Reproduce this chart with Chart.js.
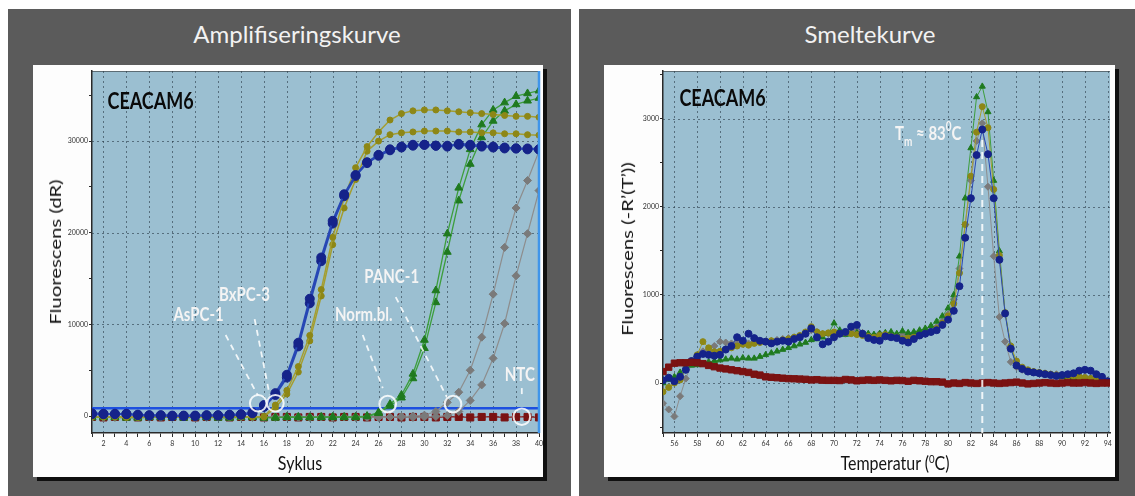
<!DOCTYPE html>
<html lang="no">
<head>
<meta charset="utf-8">
<title>CEACAM6 – amplifisering og smeltekurve</title>
<script src="https://cdn.jsdelivr.net/npm/chart.js@4.4.1/dist/chart.umd.min.js"></script>
<style>
  html, body { margin:0; padding:0; background:#ffffff; }
  body { position:relative; width:1135px; height:496px; overflow:hidden; font-family: Lato, "Open Sans", sans-serif; }
  .panel { position:absolute; top:9px; height:487px; background:#5b5b5b; }
  .ptitle { position:absolute; top:22px; font-size:24px; line-height:24px; color:#f2f2f2; white-space:nowrap; transform:translateX(-50%); }
  .card { position:absolute; top:65px; height:412px; background:#fdfdfd; box-shadow:4px 4px 0 #101010; }
  canvas { position:absolute; top:65px; }
  .axt { position:absolute; white-space:nowrap; color:#141414; font-size:16px; line-height:16px; }
  .axt.x { transform: translate(-50%,-50%) scale(1,1.22); }
  .axt.y { transform: translate(-50%,-50%) rotate(-90deg) scale(1.27,1); }
  sup { font-size:0.6em; vertical-align:0.6em; line-height:0; }
</style>
</head>
<body>
<div class="panel" style="left:8px;width:563px"></div>
<div class="panel" style="left:579px;width:556px"></div>
<div class="ptitle" style="left:297px">Amplifiseringskurve</div>
<div class="ptitle" style="left:870px">Smeltekurve</div>
<div class="card" style="left:33px;width:510px"></div>
<div class="card" style="left:604px;width:511px"></div>
<canvas id="amp" width="520" height="412" style="left:33px"></canvas>
<canvas id="melt" width="520" height="412" style="left:604px"></canvas>
<div class="axt y" style="left:55px;top:252px">Fluorescens (dR)</div>
<div class="axt x" style="left:300px;top:463px">Syklus</div>
<div class="axt y" style="left:627px;top:249px">Fluorescens (-R’(T’))</div>
<div class="axt x" style="left:895px;top:463px">Temperatur (<sup>0</sup>C)</div>

<script>
// ---------- Amplification (dR per cycle, duplicate wells) ----------
const cycles = [1,2,3,4,5,6,7,8,9,10,11,12,13,14,15,16,17,18,19,20,
                21,22,23,24,25,26,27,28,29,30,31,32,33,34,35,36,37,38,39,40];

const aspc1A = [300,250,200,250,100,50,100,50,0,50,50,100,100,150,300,1200,2500,4500,8000,12800,
                17300,21300,24200,26300,27700,28500,29100,29400,29600,29600,29500,29500,29600,29500,29400,29400,29300,29200,29200,29100];
const aspc1B = [200,200,250,200,150,100,50,0,50,0,100,50,150,200,400,1000,2300,4200,7600,12300,
                16900,21000,24000,26200,27600,28400,29000,29300,29500,29600,29500,29400,29700,29600,29500,29300,29200,29200,29100,29100];
const bxpc3A = [-100,-50,-100,-150,-100,-50,-100,-100,-150,-100,-50,-100,-100,-50,-100,-50,1200,2800,5400,8800,
                13800,19500,23800,27100,29400,31000,32300,33000,33300,33400,33400,33300,33200,33100,33000,32900,32800,32700,32700,32600];
const bxpc3B = [-50,-100,-50,-100,-150,-100,-50,-100,-100,-150,-100,-100,-50,-100,-50,-100,900,2400,4800,8200,
                13100,18700,22700,25800,28900,30000,30700,30900,31000,31100,31100,31100,31000,31000,30900,30900,30800,30800,30700,30650];
const greenA = [-100,-150,-100,-150,-200,-150,-100,-150,-150,-100,-150,-200,-150,-100,-150,-200,-150,-150,-100,-150,
                -150,-100,-150,-100,0,400,1300,2300,4600,8300,13700,19900,24900,29100,31800,33400,34200,34900,35200,35500];
const greenB = [-150,-100,-150,-200,-150,-100,-150,-100,-200,-150,-100,-150,-200,-150,-100,-150,-200,-100,-150,-150,
                -100,-150,-100,-150,-50,300,1100,2000,4100,7400,12400,17900,23500,27500,30400,32200,33300,34000,34400,34700];
const greyA  = [-100,-150,-100,-100,-150,-100,-150,-100,-100,-150,-100,-100,-150,-100,-100,-150,-100,-100,-150,-100,
                -100,-150,-100,-100,-150,-100,-100,-50,0,100,500,1500,2600,5000,8600,13300,18400,22700,25700,28900];
const greyB  = [-150,-100,-150,-100,-100,-150,-100,-150,-100,-100,-150,-100,-150,-100,-150,-100,-150,-100,-100,-150,
                -100,-150,-100,-150,-100,-150,-100,-100,-150,-100,-50,50,500,1700,3400,6300,10100,15300,19900,24600];
const ntcAmp = [-100,-150,-100,-100,-150,-100,-150,-100,-100,-150,-100,-100,-150,-100,-100,-150,-100,-100,-150,-100,
                -100,-150,-100,-100,-150,-100,-100,-150,-100,-100,-150,-100,-100,-150,-100,-100,-150,-100,-100,-150];
const thresholdCycles = [1, 40];
const thresholdValues = [850, 850];

// axis ticks (every tick gets a mark; labelled ones also get a grid line)
const ampXTicks = cycles;
const ampYTicks = [0,5000,10000,15000,20000,25000,30000,35000];

// ---------- Melt curve (-R'(T) per temperature) ----------
const temps = [55,55.5,56,56.5,57,57.5,58,58.5,59,59.5,60,60.5,61,61.5,62,62.5,63,63.5,64,64.5,
               65,65.5,66,66.5,67,67.5,68,68.5,69,69.5,70,70.5,71,71.5,72,72.5,73,73.5,74,74.5,
               75,75.5,76,76.5,77,77.5,78,78.5,79,79.5,80,80.5,81,81.5,82,82.5,83,83.5,84,84.5,
               85,85.5,86,86.5,87,87.5,88,88.5,89,89.5,90,90.5,91,91.5,92,92.5,93,93.5,94];
const meltBlue  = [30,60,20,70,150,250,300,330,320,310, 320,380,420,520,480,560,510,480,470,450,
                   470,480,470,500,520,560,620,520,440,470, 520,560,580,640,660,560,510,490,480,530,
                   520,510,480,460,500,540,560,580,600,660, 720,820,1100,1650,2100,2590,2880,2600,2100,1400,
                   790,390,200,160,130,120,110,100,90,80, 90,100,110,140,150,140,100,70,20];
const meltGreen = [0,40,70,120,185,200,205,215,240,250, 260,270,280,270,285,280,280,300,320,340,
                   360,380,400,420,440,460,490,500,520,560, 680,600,550,560,570,560,560,550,560,570,
                   580,560,590,570,580,600,620,650,700,760, 850,1000,1440,2100,2670,3250,3370,3080,2300,1500,
                   800,420,200,150,130,120,110,100,90,80, 70,70,60,60,50,50,40,30,20];
const meltGrey  = [-230,-300,-380,-150,50,220,300,360,380,420, 470,460,450,470,460,450,470,460,470,480,
                   490,500,510,520,540,560,600,580,560,560, 570,580,560,580,600,570,550,540,560,550,
                   530,540,550,540,560,580,590,600,640,700, 780,950,1300,1800,2300,2750,2950,2230,1440,750,
                   470,240,180,150,140,130,120,110,100,100, 90,90,80,80,70,60,50,40,30];
const meltOlive = [-100,-50,0,35,150,250,320,470,400,355, 360,380,400,420,440,430,450,460,470,480,
                   470,490,500,520,540,580,640,580,560,570, 580,560,570,560,550,540,530,520,540,550,
                   530,520,500,510,520,540,560,580,620,680, 760,900,1250,1800,2350,2850,3140,2900,2200,1450,
                   800,420,250,180,150,130,120,110,100,90, 90,80,80,70,60,50,40,30,10];
const meltNtc   = [130,180,225,230,230,235,230,220,200,185, 170,160,150,140,130,120,100,90,70,65,
                   60,55,50,48,45,42,35,38,32,30, 30,28,40,35,25,30,35,30,35,30,
                   25,30,28,20,30,25,20,15,15,10, -10,0,-5,5,0,-5,0,5,0,-5,
                   0,5,10,0,-10,-5,0,5,0,-5, 0,5,0,0,5,0,-5,0,0];
const meltPeakT = 83;

const meltXTicks = [55,56,57,58,59,60,61,62,63,64,65,66,67,68,69,70,71,72,73,74,
                    75,76,77,78,79,80,81,82,83,84,85,86,87,88,89,90,91,92,93,94];
const meltYTicks = [-500,0,500,1000,1500,2000,2500,3000,3500];

// ---------- annotation anchors (data units) ----------
const ampRings   = [[15.5,1400],[17.0,1400],[26.8,1300],[32.5,1300],[38.5,-70]];
const ampLeaders = [[12.66,8840,15.45,2290],[15.19,10580,16.5,2290],[24.62,8840,26.37,3050],
                    [27.5,12980,31.96,2070],[38.5,3050,38.5,1960]];
const ampLabels  = [['AsPC-1',10.3,11020],['BxPC-3',14.31,13200],['Norm.bl.',24.71,11020],
                    ['PANC-1',27.15,15160],['NTC',38.33,4470]];
const geneName = 'CEACAM6';

// ---------- styling ----------
Chart.defaults.font.family = 'Lato, "Open Sans", sans-serif';
Chart.defaults.color = '#333';
const PLOT_BG = '#9bbfd1';
const GRID = 'rgba(40,58,70,0.6)';
const AXIS = '#2a2a2a';
const TEXT_STRETCH = 1.3;

function points(xs, ys) { return xs.map((x, i) => ({ x, y: ys[i] })); }

function series(label, xs, ys, line, dot, style, radius, width) {
  return {
    label, data: points(xs, ys),
    borderColor: line, backgroundColor: dot,
    pointBackgroundColor: dot, pointBorderColor: dot,
    pointStyle: style, pointRadius: radius, pointBorderWidth: 1,
    borderWidth: width, tension: 0, fill: false
  };
}

const isMultiple = (v, step) => Math.abs(v / step - Math.round(v / step)) < 1e-6;

function axis(min, max, tickValues, labelStep, horizontal) {
  return {
    type: 'linear', min, max,
    labelStep,
    afterFit: s => { if (horizontal) s.height = 44; else s.width = 59; },
    afterBuildTicks: s => { s.ticks = tickValues.map(v => ({ value: v })); },
    ticks: { autoSkip: false, maxRotation: 0, minRotation: 0,
             padding: horizontal ? 3 : 1, font: { size: 7 }, color: '#333',
             callback: v => (isMultiple(v, labelStep) ? String(v) : '') },
    grid: { drawOnChartArea: false, drawTicks: true,
            tickLength: horizontal ? 4 : 3, tickColor: AXIS, tickWidth: 1 },
    border: { display: true, color: AXIS, width: 1.5 }
  };
}

// plot background plus dotted grid at the labelled ticks
const plotBackground = {
  id: 'plotBackground',
  beforeDraw(chart) {
    const { ctx, chartArea: a } = chart;
    ctx.save();
    ctx.fillStyle = PLOT_BG;
    ctx.fillRect(a.left, a.top, a.right - a.left, a.bottom - a.top);
    ctx.strokeStyle = 'rgba(40,40,40,0.55)';
    ctx.lineWidth = 1;
    ctx.beginPath(); ctx.moveTo(a.left, a.top + 0.5); ctx.lineTo(a.right, a.top + 0.5); ctx.stroke();
    ctx.restore();
  },
  beforeDatasetsDraw(chart) {
    const { ctx, chartArea: a, scales: { x, y } } = chart;
    ctx.save();
    ctx.strokeStyle = GRID; ctx.lineWidth = 1; ctx.setLineDash([2, 3]);
    x.ticks.forEach(t => {
      if (!isMultiple(t.value, x.options.labelStep)) return;
      const px = Math.round(x.getPixelForValue(t.value)) + 0.5;
      if (px <= a.left + 1 || px >= a.right - 1) return;
      ctx.beginPath(); ctx.moveTo(px, a.top); ctx.lineTo(px, a.bottom); ctx.stroke();
    });
    y.ticks.forEach(t => {
      if (!isMultiple(t.value, y.options.labelStep)) return;
      const py = Math.round(y.getPixelForValue(t.value)) + 0.5;
      ctx.beginPath(); ctx.moveTo(a.left, py); ctx.lineTo(a.right, py); ctx.stroke();
    });
    ctx.restore();
  }
};

function stretchedText(ctx, text, x, y) {
  ctx.save();
  ctx.translate(x, y);
  ctx.scale(1, TEXT_STRETCH);
  ctx.fillText(text, 0, 0);
  ctx.restore();
}

const ampNotes = {
  id: 'ampNotes',
  afterDatasetsDraw(chart) {
    const { ctx, chartArea: a, scales: { x, y } } = chart;
    ctx.save();
    // run cursor at the last cycle
    ctx.strokeStyle = '#3f95ea'; ctx.lineWidth = 2.5;
    ctx.beginPath(); ctx.moveTo(a.right, a.top); ctx.lineTo(a.right, a.bottom); ctx.stroke();
    // leader lines
    ctx.strokeStyle = 'rgba(255,255,255,0.85)'; ctx.lineWidth = 1.8; ctx.setLineDash([6, 5]);
    ampLeaders.forEach(([x1, y1, x2, y2]) => {
      ctx.beginPath();
      ctx.moveTo(x.getPixelForValue(x1), y.getPixelForValue(y1));
      ctx.lineTo(x.getPixelForValue(x2), y.getPixelForValue(y2));
      ctx.stroke();
    });
    ctx.setLineDash([]);
    // Ct rings
    ctx.lineWidth = 2; ctx.strokeStyle = 'rgba(255,255,255,0.85)';
    ampRings.forEach(([cx, cy]) => {
      ctx.beginPath();
      ctx.arc(x.getPixelForValue(cx), y.getPixelForValue(cy), 8.3, 0, Math.PI * 2);
      ctx.stroke();
    });
    // sample labels
    ctx.fillStyle = '#f4f4f4'; ctx.font = 'bold 15px Lato, sans-serif';
    ctx.textAlign = 'center'; ctx.textBaseline = 'middle';
    ampLabels.forEach(([t, lx, ly]) => stretchedText(ctx, t, x.getPixelForValue(lx), y.getPixelForValue(ly)));
    // gene name
    ctx.fillStyle = '#0a0a0a'; ctx.font = 'bold 18px Lato, sans-serif'; ctx.textAlign = 'left';
    stretchedText(ctx, geneName, x.getPixelForValue(2.35), y.getPixelForValue(34360));
    ctx.restore();
  }
};

const meltNotes = {
  id: 'meltNotes',
  afterDatasetsDraw(chart) {
    const { ctx, chartArea: a, scales: { x, y } } = chart;
    ctx.save();
    // Tm marker
    const px = x.getPixelForValue(meltPeakT);
    ctx.strokeStyle = 'rgba(255,255,255,0.85)'; ctx.lineWidth = 2; ctx.setLineDash([7, 5]);
    ctx.beginPath(); ctx.moveTo(px, y.getPixelForValue(2760)); ctx.lineTo(px, a.bottom); ctx.stroke();
    ctx.setLineDash([]);
    // Tm label
    ctx.fillStyle = '#f4f4f4'; ctx.textAlign = 'left'; ctx.textBaseline = 'alphabetic';
    let tx = x.getPixelForValue(75.35);
    const ty = y.getPixelForValue(2760);
    const part = (txt, size, dy) => {
      ctx.font = 'bold ' + size + 'px Lato, sans-serif';
      stretchedText(ctx, txt, tx, ty + dy);
      tx += ctx.measureText(txt).width;
    };
    part('T', 15, 0); part('m', 10, 6); part(' ≈ 83', 15, 0); part('0', 10, -9); part('C', 15, 0);
    // gene name
    ctx.fillStyle = '#0a0a0a'; ctx.font = 'bold 18px Lato, sans-serif';
    ctx.textAlign = 'left'; ctx.textBaseline = 'middle';
    stretchedText(ctx, geneName, x.getPixelForValue(56.44), y.getPixelForValue(3233));
    ctx.restore();
  }
};

const commonOptions = {
  responsive: false, animation: false, devicePixelRatio: 1,
  layout: { padding: { top: 6, right: 14, left: 0, bottom: 0 } },
  plugins: { legend: { display: false }, tooltip: { enabled: false } },
  events: []
};

// earlier datasets are painted on top; the NTC well sits under the sample wells here
new Chart(document.getElementById('amp'), {
  type: 'line',
  data: {
    datasets: [
      series('AsPC-1', cycles, aspc1A, '#2747b5', '#15238a', 'circle', 4.5, 2),
      series('AsPC-1', cycles, aspc1B, '#2747b5', '#15238a', 'circle', 4.5, 2),
      series('BxPC-3', cycles, bxpc3A, '#a49e30', '#8d8716', 'circle', 3, 1.5),
      series('BxPC-3', cycles, bxpc3B, '#a49e30', '#8d8716', 'circle', 3, 1.5),
      series('grønn', cycles, greenA, '#3d9e3d', '#1f7a1f', 'triangle', 4.5, 1.3),
      series('grønn', cycles, greenB, '#3d9e3d', '#1f7a1f', 'triangle', 4.5, 1.3),
      series('grå', cycles, greyA, '#8d8d8d', '#7a7a7a', 'rectRot', 4, 1.2),
      series('grå', cycles, greyB, '#8d8d8d', '#7a7a7a', 'rectRot', 4, 1.2),
      series('NTC', cycles, ntcAmp, '#8a1c1c', '#7a1212', 'rect', 5, 1.2),
      { label: 'Terskel', data: points(thresholdCycles, thresholdValues), borderColor: '#1d4fe0',
        borderWidth: 2.5, pointRadius: 0, fill: false }
    ]
  },
  options: Object.assign({}, commonOptions, {
    scales: { x: axis(1, 40, ampXTicks, 2, true), y: axis(-1850, 37650, ampYTicks, 10000, false) }
  }),
  plugins: [plotBackground, ampNotes]
});

new Chart(document.getElementById('melt'), {
  type: 'line',
  data: {
    datasets: [
      series('NTC', temps, meltNtc, '#8a1c1c', '#7a1212', 'rect', 4.5, 1),
      series('AsPC-1', temps, meltBlue, '#2747b5', '#15238a', 'circle', 3.5, 1),
      series('BxPC-3', temps, meltOlive, '#a49e30', '#8d8716', 'circle', 3, 1),
      series('grønn', temps, meltGreen, '#3d9e3d', '#1f7a1f', 'triangle', 3.5, 1),
      series('grå', temps, meltGrey, '#8d8d8d', '#7a7a7a', 'rectRot', 3.5, 1)
    ]
  },
  options: Object.assign({}, commonOptions, {
    scales: { x: axis(55, 94.2, meltXTicks, 2, true), y: axis(-568, 3545, meltYTicks, 1000, false) }
  }),
  plugins: [plotBackground, meltNotes]
});
</script>
</body>
</html>
